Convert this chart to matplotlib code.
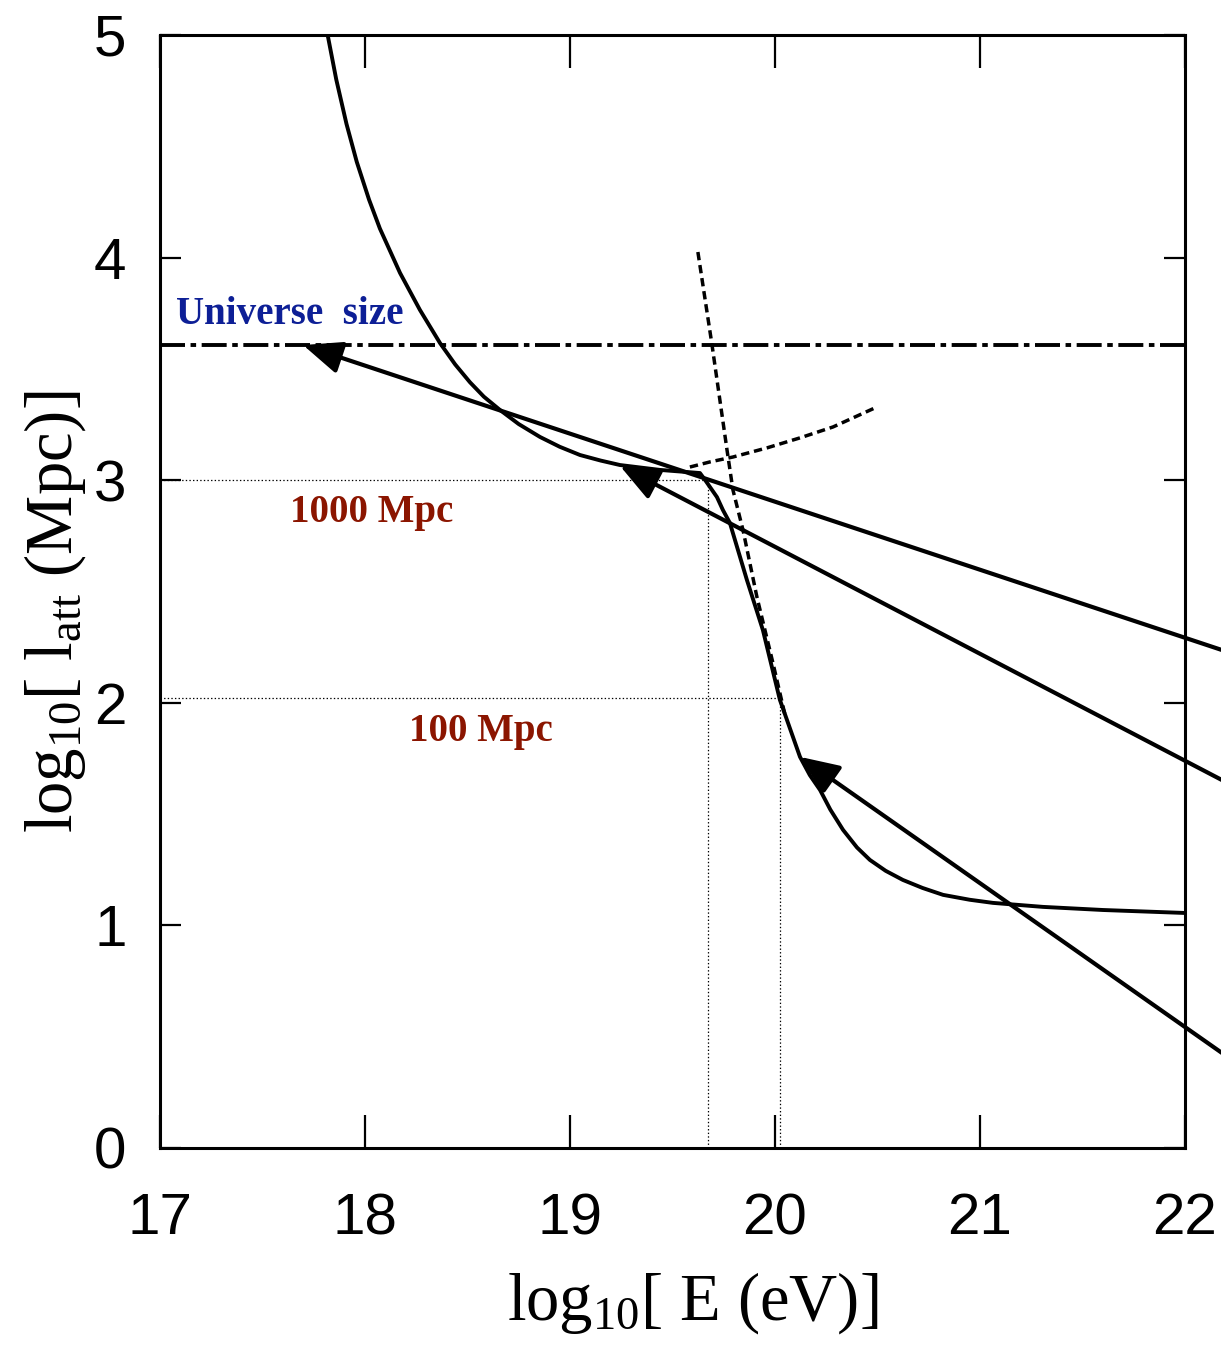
import matplotlib
matplotlib.use("Agg")
import matplotlib.pyplot as plt

plt.rcParams['font.family'] = ['Liberation Serif', 'DejaVu Serif']
plt.rcParams['mathtext.fontset'] = 'custom'
plt.rcParams['mathtext.rm'] = 'Liberation Serif'
plt.rcParams['mathtext.it'] = 'Liberation Serif:italic'
plt.rcParams['lines.scale_dashes'] = False

# attenuation length, total (solid)
e_total = [17.818, 17.86, 17.91, 17.96, 18.02, 18.073, 18.171, 18.268, 18.366, 18.44,
           18.512, 18.58, 18.659, 18.75, 18.854, 18.95, 19.049, 19.15, 19.244, 19.439,
           19.634, 19.659, 19.717, 19.746, 19.780, 19.863, 19.941, 20.024, 20.122,
           20.17, 20.220, 20.27, 20.332, 20.40, 20.463, 20.54, 20.624, 20.72,
           20.820, 20.95, 21.063, 21.307, 21.600, 21.990]
l_total = [5.0, 4.80, 4.60, 4.43, 4.26, 4.130, 3.931, 3.765, 3.616, 3.52,
           3.440, 3.375, 3.315, 3.252, 3.194, 3.150, 3.113, 3.088, 3.068, 3.046,
           3.032, 3.001, 2.924, 2.866, 2.808, 2.552, 2.327, 2.013, 1.757,
           1.675, 1.608, 1.520, 1.429, 1.350, 1.294, 1.245, 1.204, 1.168,
           1.137, 1.115, 1.101, 1.083, 1.069, 1.056]

# steep dashed branch
e_steep = [19.624, 19.693, 19.766, 19.795, 19.844, 19.912, 19.990, 20.049]
l_steep = [4.025, 3.607, 3.136, 2.956, 2.776, 2.475, 2.179, 1.945]

# rising dashed branch
e_rise = [19.585, 19.683, 19.795, 19.961, 20.122, 20.283, 20.498]
l_rise = [3.059, 3.082, 3.104, 3.145, 3.190, 3.239, 3.329]

universe_size = 3.607

# reference distances: (energy, log length)
ref_1000 = (19.673, 3.0)
ref_100 = (20.024, 2.02)

# arrows: (tip, tail)
arrow_tips = [(17.698, 3.607), (19.244, 3.064), (20.122, 1.757)]
arrow_tails = [(22.18, 2.237), (22.18, 1.653), (22.18, 0.427)]

fig = plt.figure(figsize=(12.21, 13.45), dpi=100)
ax = fig.add_axes([0.131, 0.1465, 0.8395, 0.8275])

ax.plot(e_total, l_total, color='black', lw=2.8, solid_joinstyle='round')
ax.plot(e_steep, l_steep, color='black', lw=2.5, dashes=(6, 3.5))
ax.plot(e_rise, l_rise, color='black', lw=2.5, dashes=(6, 3.5))

ax.axhline(universe_size, color='black', lw=2.8, dashes=(18, 4, 4, 4))

dot = dict(color='black', lw=0.9, dashes=(1, 1.6))
ax.plot([17, ref_1000[0]], [ref_1000[1], ref_1000[1]], **dot)
ax.plot([ref_1000[0], ref_1000[0]], [0, ref_1000[1]], **dot)
ax.plot([17, ref_100[0]], [ref_100[1], ref_100[1]], **dot)
ax.plot([ref_100[0], ref_100[0]], [0, ref_100[1]], **dot)

for tip, tail in zip(arrow_tips, arrow_tails):
    ax.annotate('', xy=tip, xytext=tail, annotation_clip=False,
                arrowprops=dict(arrowstyle='-|>,head_length=0.6,head_width=0.25',
                                color='black', lw=3, mutation_scale=40,
                                shrinkA=0, shrinkB=0))

ax.text(17.634, 3.742, 'Universe  size', color='#0d1f96', fontsize=28,
        fontweight='bold', ha='center', va='center')
ax.text(18.034, 2.853, '1000 Mpc', color='#8b1500', fontsize=28,
        fontweight='bold', ha='center', va='center')
ax.text(18.566, 1.873, '100 Mpc', color='#8b1500', fontsize=28,
        fontweight='bold', ha='center', va='center')

ax.set_xlim(17, 22)
ax.set_ylim(0, 5)
ax.set_xticks([17, 18, 19, 20, 21, 22])
ax.set_yticks([0, 1, 2, 3, 4, 5])
ax.tick_params(direction='in', top=True, right=True, width=1.6)
ax.tick_params(axis='x', length=24, pad=32)
ax.tick_params(axis='y', length=15, pad=24)
for lab in ax.get_xticklabels() + ax.get_yticklabels():
    lab.set_family(['Liberation Sans', 'DejaVu Sans'])
    lab.set_fontsize(42)
for s in ax.spines.values():
    s.set_linewidth(2.2)

fig.text(0.567, 0.031, r'log$_{10}$[ E (eV)]', fontsize=48, ha='center', va='center')
fig.text(0.045, 0.545, r'log$_{10}$[ l$_{\rm att}$ (Mpc)]', fontsize=48,
         rotation=90, ha='center', va='center')

fig.savefig('out.png', dpi=100)
